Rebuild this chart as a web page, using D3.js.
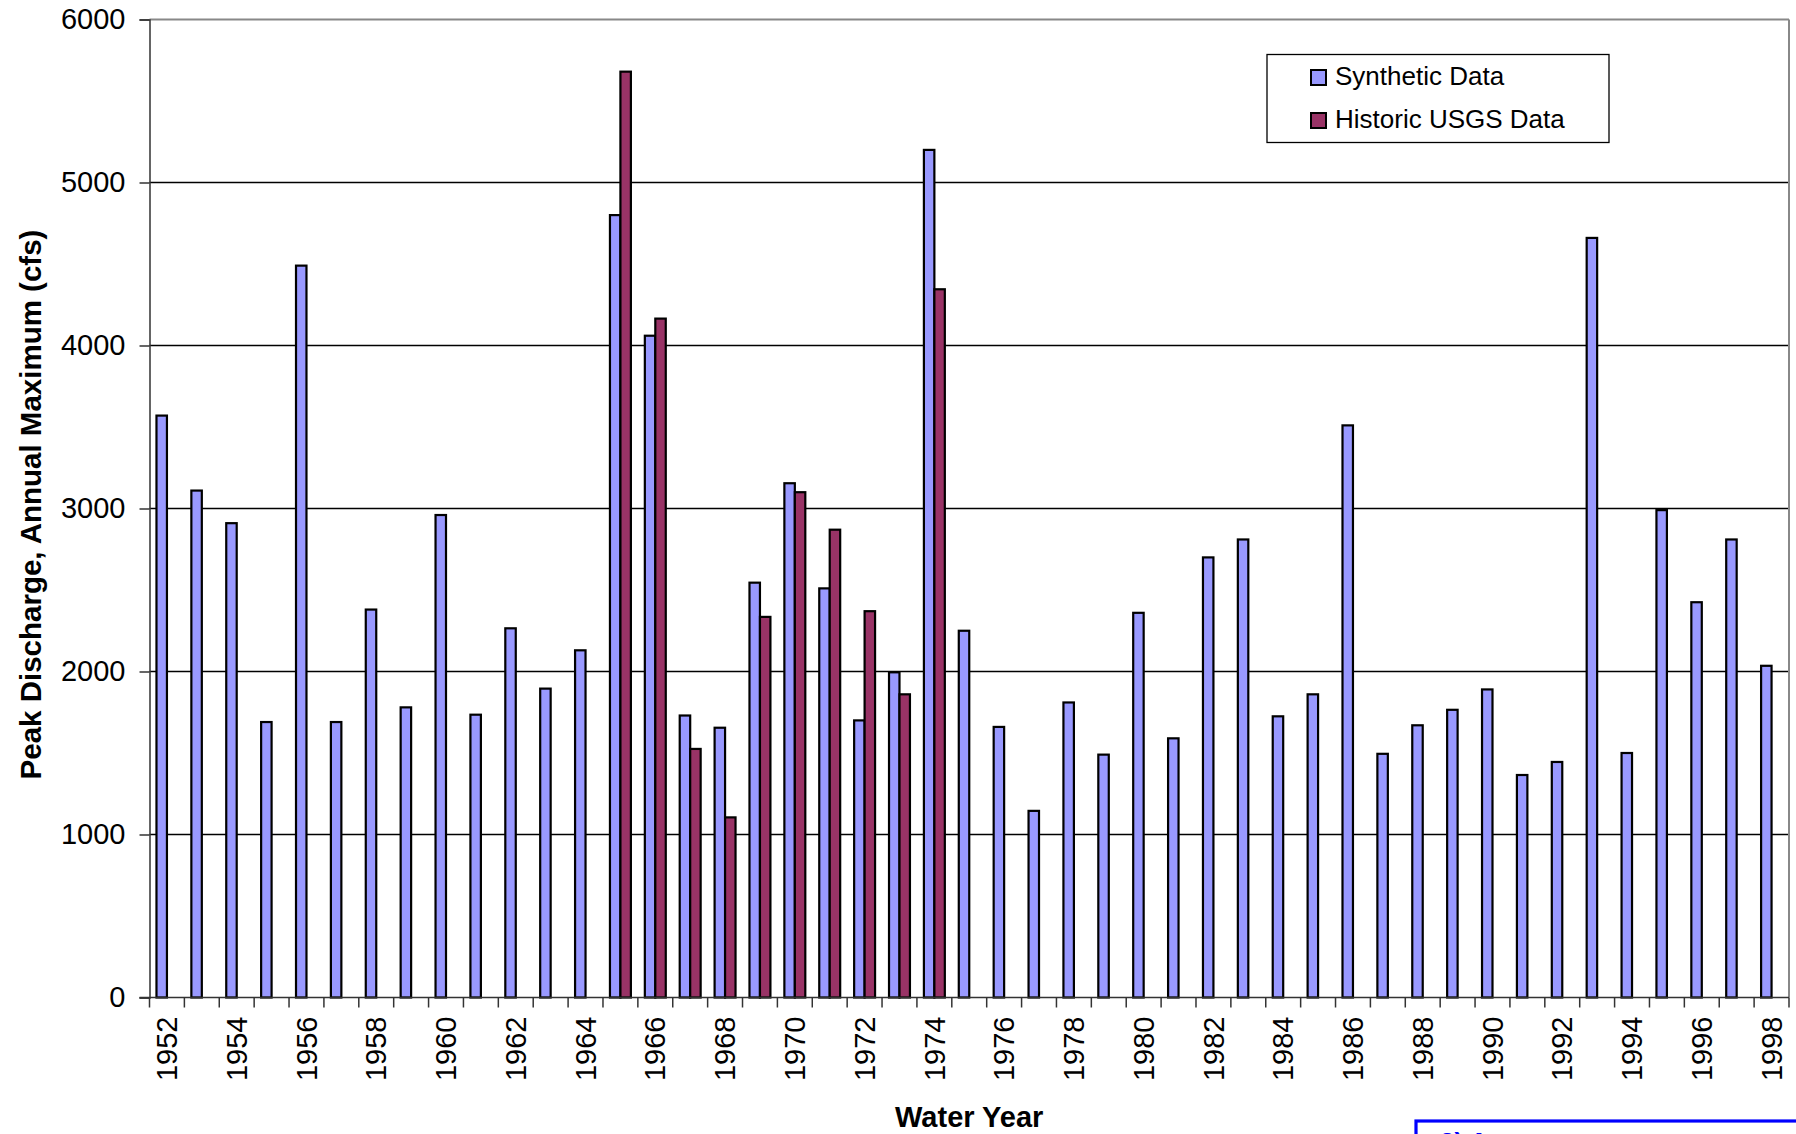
<!DOCTYPE html>
<html>
<head>
<meta charset="utf-8">
<script src="https://cdn.jsdelivr.net/npm/d3@7"></script>
<style>
  html, body { margin: 0; padding: 0; background: #fff; }
  svg { display: block; font-family: "Liberation Sans", Arial, sans-serif; }
</style>
</head>
<body>
<svg id="chart" width="1796" height="1134"></svg>
<script>
// ---- data ----
const years = [1952,1953,1954,1955,1956,1957,1958,1959,1960,1961,1962,1963,1964,1965,1966,1967,1968,1969,1970,1971,1972,1973,1974,1975,1976,1977,1978,1979,1980,1981,1982,1983,1984,1985,1986,1987,1988,1989,1990,1991,1992,1993,1994,1995,1996,1997,1998];
const synthetic = [3570,3110,2910,1690,4490,1690,2380,1780,2960,1735,2265,1895,2130,4800,4060,1730,1655,2545,3155,2510,1700,1995,5200,2250,1660,1145,1810,1490,2360,1590,2700,2810,1725,1860,3510,1495,1670,1765,1890,1365,1445,4660,1500,2990,2425,2810,2035];
const historic = [null,null,null,null,null,null,null,null,null,null,null,null,null,5680,4165,1525,1105,2335,3100,2870,2370,1860,4345,null,null,null,null,null,null,null,null,null,null,null,null,null,null,null,null,null,null,null,null,null,null,null,null];
const yTicks = [0,1000,2000,3000,4000,5000,6000];
const seriesNames = ["Synthetic Data", "Historic USGS Data"];
const seriesColors = ["#9999FF", "#993366"];

// ---- layout ----
const svg = d3.select("#chart");
const L = 149.5, R = 1789, T = 19.5, B = 997.5;

const x = d3.scaleBand().domain(years).range([L, R]).padding(0);
const y = d3.scaleLinear().domain([0, 6000]).range([B, T]);
const bw = x.step() * 0.3;

// gridlines
svg.append("g").selectAll("line")
  .data(yTicks.filter(d => d > 0 && d < 6000))
  .join("line")
  .attr("x1", L).attr("x2", R)
  .attr("y1", d => y(d)).attr("y2", d => y(d))
  .attr("stroke", "#000").attr("stroke-width", 1.3);

// plot border top/right (gray)
svg.append("line").attr("x1", L).attr("x2", R).attr("y1", T).attr("y2", T)
  .attr("stroke", "#888").attr("stroke-width", 2);
svg.append("line").attr("x1", R).attr("x2", R).attr("y1", T).attr("y2", B)
  .attr("stroke", "#888").attr("stroke-width", 2);

// bars
const barG = svg.append("g");
barG.selectAll("rect.syn")
  .data(years.map((yr, i) => ({yr, v: synthetic[i]})))
  .join("rect").attr("class", "syn")
  .attr("x", d => x(d.yr) + x.step() / 2 - bw)
  .attr("width", bw)
  .attr("y", d => y(d.v))
  .attr("height", d => y(0) - y(d.v))
  .attr("fill", seriesColors[0]).attr("stroke", "#000").attr("stroke-width", 2.2);

barG.selectAll("rect.his")
  .data(years.map((yr, i) => ({yr, v: historic[i]})).filter(d => d.v != null))
  .join("rect").attr("class", "his")
  .attr("x", d => x(d.yr) + x.step() / 2)
  .attr("width", bw)
  .attr("y", d => y(d.v))
  .attr("height", d => y(0) - y(d.v))
  .attr("fill", seriesColors[1]).attr("stroke", "#000").attr("stroke-width", 2.2);

// y axis
const yAxis = d3.axisLeft(y).tickValues(yTicks).tickSize(10).tickPadding(14).tickFormat(d3.format("d"));
const yg = svg.append("g").attr("transform", `translate(${L},0)`).call(yAxis);
yg.select(".domain").attr("stroke", "#333").attr("stroke-width", 1.5);
yg.selectAll(".tick line").attr("stroke", "#333").attr("stroke-width", 1.5);
yg.selectAll(".tick text").attr("font-size", 29).attr("fill", "#000")
  .attr("font-family", "'Liberation Sans', Arial, sans-serif");

// x axis: ticks at category boundaries
const xg = svg.append("g").attr("transform", `translate(0,${B})`);
xg.append("line").attr("x1", L - 10).attr("x2", R).attr("y1", 0).attr("y2", 0)
  .attr("stroke", "#333").attr("stroke-width", 1.5);
xg.selectAll("line.tk")
  .data(years.concat([null]))
  .join("line").attr("class", "tk")
  .attr("x1", (d, i) => L + i * x.step()).attr("x2", (d, i) => L + i * x.step())
  .attr("y1", 0).attr("y2", 10)
  .attr("stroke", "#333").attr("stroke-width", 1.5);
xg.selectAll("text")
  .data(years.filter((d, i) => i % 2 === 0))
  .join("text")
  .attr("transform", d => `translate(${x(d) + x.step() / 2},19) rotate(-90)`)
  .attr("text-anchor", "end")
  .attr("dy", "0.35em")
  .attr("font-size", 29)
  .attr("fill", "#000")
  .text(d => d);

// axis titles
svg.append("text")
  .attr("x", (L + R) / 2).attr("y", 1127)
  .attr("text-anchor", "middle")
  .attr("font-size", 29).attr("font-weight", "bold")
  .text("Water Year");

svg.append("text")
  .attr("transform", `translate(41,${(T + B) / 2 - 4}) rotate(-90)`)
  .attr("text-anchor", "middle")
  .attr("font-size", 29.5).attr("font-weight", "bold")
  .text("Peak Discharge, Annual Maximum (cfs)");

// legend
const lg = svg.append("g");
lg.append("rect").attr("x", 1267).attr("y", 54.5).attr("width", 342).attr("height", 88)
  .attr("fill", "#fff").attr("stroke", "#000").attr("stroke-width", 1.3);
seriesNames.forEach((name, i) => {
  lg.append("rect").attr("x", 1311).attr("y", 70 + i * 43).attr("width", 15).attr("height", 15)
    .attr("fill", seriesColors[i]).attr("stroke", "#000").attr("stroke-width", 2);
  lg.append("text").attr("x", 1335).attr("y", 85 + i * 43)
    .attr("font-size", 26).attr("fill", "#000").text(name);
});

// partially visible blue box at bottom right (cut off by the page edge, as in the original)
svg.append("rect").attr("x", 1416).attr("y", 1121).attr("width", 420).attr("height", 80)
  .attr("fill", "#fff").attr("stroke", "#0000FF").attr("stroke-width", 3.2);
svg.append("text").attr("x", 1440).attr("y", 1151)
  .attr("font-size", 26).attr("font-weight", "bold").attr("fill", "#0000FF")
  .text("3) A");
</script>
</body>
</html>
